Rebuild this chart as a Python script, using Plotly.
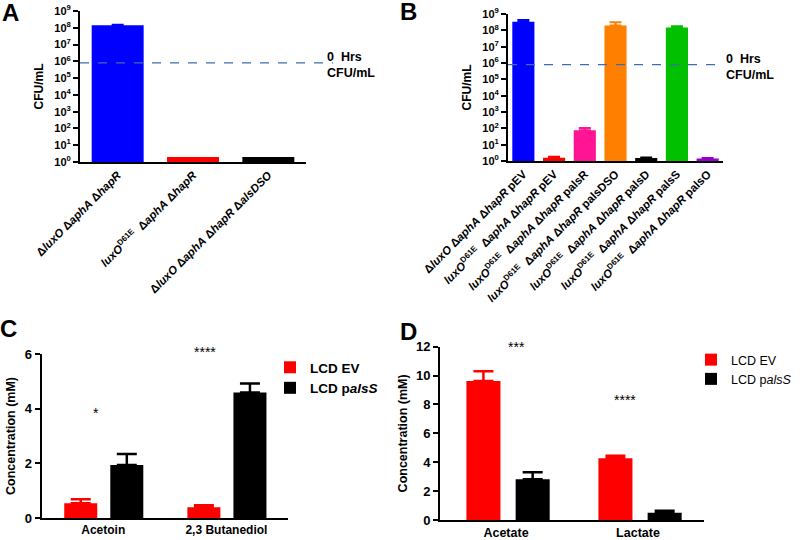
import plotly.graph_objects as go

# ---------------- data ----------------
a_labels = ["Δ<i>luxO</i> Δ<i>aphA</i> Δ<i>hapR</i>",
            "<i>luxO</i><sup>D61E</sup>  Δ<i>aphA</i> Δ<i>hapR</i>",
            "Δ<i>luxO</i> Δ<i>aphA</i> Δ<i>hapR</i> Δ<i>alsDSO</i>"]
a_values = [1.4e8, 2.0, 2.0]
a_errors = [0.1e8, 0.0, 0.0]
a_colors = ["#0000ff", "#ff0000", "#000000"]

b_labels = ["Δ<i>luxO</i> Δ<i>aphA</i> Δ<i>hapR</i> pEV",
            "<i>luxO</i><sup>D61E</sup>  Δ<i>aphA</i> Δ<i>hapR</i> pEV",
            "<i>luxO</i><sup>D61E</sup>  Δ<i>aphA</i> Δ<i>hapR</i> palsR",
            "<i>luxO</i><sup>D61E</sup>  Δ<i>aphA</i> Δ<i>hapR</i> palsDSO",
            "<i>luxO</i><sup>D61E</sup>  Δ<i>aphA</i> Δ<i>hapR</i> palsD",
            "<i>luxO</i><sup>D61E</sup>  Δ<i>aphA</i> Δ<i>hapR</i> palsS",
            "<i>luxO</i><sup>D61E</sup>  Δ<i>aphA</i> Δ<i>hapR</i> palsO"]
b_values = [3.4e8, 1.6, 75, 2.0e8, 1.5, 1.5e8, 1.4]
b_errors = [0.9e8, 0.2, 30, 1.1e8, 0.15, 0.3e8, 0.1]
b_colors = ["#0000ff", "#ff0000", "#ff1493", "#ff7f00", "#000000", "#00c000", "#9900cc"]

zero_hrs_cfu = 8e5

log_tickvals = [10 ** k for k in range(10)]
log_ticktext = ["<b>10<sup>%d</sup></b>" % k for k in range(10)]

c_categories = ["Acetoin", "2,3 Butanediol"]
c_ev = [0.54, 0.39]
c_ev_err = [0.15, 0.08]
c_als = [1.94, 4.59]
c_als_err = [0.40, 0.33]

d_categories = ["Acetate", "Lactate"]
d_ev = [9.63, 4.27]
d_ev_err = [0.67, 0.18]
d_als = [2.82, 0.51]
d_als_err = [0.48, 0.13]

c_stars = [("*", 0, 4.0), ("****", 1, 6.6)]
d_stars = [("***", 0, 12.95), ("****", 1, 9.3)]

RED = "#ff0000"
BLACK = "#000000"
FONT = "Liberation Sans, Arial, sans-serif"

W, H = 800, 540
def px_x(p):
    return p / W
def px_y(p):
    return 1 - p / H
def dx(a, b):
    return [px_x(a), px_x(b)]
def dy(top, bottom):
    return [px_y(bottom), px_y(top)]

fig = go.Figure()

# Panel A
for i, (v, e, c) in enumerate(zip(a_values, a_errors, a_colors)):
    fig.add_trace(go.Bar(
        x=[i], y=[v], marker_color=c, marker_line_width=0, width=0.69, showlegend=False,
        error_y=dict(type="data", symmetric=False, array=[e], arrayminus=[0],
                     color=c, thickness=2, width=6, visible=e > 0),
        xaxis="x", yaxis="y"))

# Panel B
for i, (v, e, c) in enumerate(zip(b_values, b_errors, b_colors)):
    fig.add_trace(go.Bar(
        x=[i], y=[v], marker_color=c, marker_line_width=0, width=0.72, showlegend=False,
        error_y=dict(type="data", symmetric=False, array=[e], arrayminus=[0],
                     color=c, thickness=2, width=6),
        xaxis="x2", yaxis="y2"))

# Panel C
fig.add_trace(go.Bar(
    x=[0, 1], y=c_ev, name="<b>LCD EV</b>", marker_color=RED, marker_line_width=0,
    width=0.268, offset=-0.317,
    error_y=dict(type="data", symmetric=False, array=c_ev_err, arrayminus=[0, 0],
                 color=RED, thickness=2.5, width=10),
    xaxis="x3", yaxis="y3", legend="legend"))
fig.add_trace(go.Bar(
    x=[0, 1], y=c_als, name="<b>LCD p<i>alsS</i></b>", marker_color=BLACK, marker_line_width=0,
    width=0.268, offset=0.057,
    error_y=dict(type="data", symmetric=False, array=c_als_err, arrayminus=[0, 0],
                 color=BLACK, thickness=2.5, width=10),
    xaxis="x3", yaxis="y3", legend="legend"))

# Panel D
fig.add_trace(go.Bar(
    x=[0, 1], y=d_ev, name="LCD EV", marker_color=RED, marker_line_width=0,
    width=0.258, offset=-0.30,
    error_y=dict(type="data", symmetric=False, array=d_ev_err, arrayminus=[0, 0],
                 color=RED, thickness=2.5, width=10),
    xaxis="x4", yaxis="y4", legend="legend2"))
fig.add_trace(go.Bar(
    x=[0, 1], y=d_als, name="LCD p<i>alsS</i>", marker_color=BLACK, marker_line_width=0,
    width=0.258, offset=0.073,
    error_y=dict(type="data", symmetric=False, array=d_als_err, arrayminus=[0, 0],
                 color=BLACK, thickness=2.5, width=10),
    xaxis="x4", yaxis="y4", legend="legend2"))

axis_common = dict(showline=True, linecolor="black", linewidth=2, showgrid=False, zeroline=False,
                   ticks="outside", tickcolor="black", tickwidth=2, ticklen=5, automargin=False,
                   ticklabeloverflow="allow", tickfont=dict(family=FONT, color="black"))
xcat_common = dict(showline=True, linecolor="black", linewidth=2, showgrid=False, zeroline=False,
                   ticks="", automargin=False, ticklabeloverflow="allow",
                   tickfont=dict(family=FONT, color="black"))

fig.update_layout(
    width=W, height=H, margin=dict(l=0, r=0, t=0, b=0, autoexpand=False),
    paper_bgcolor="white", plot_bgcolor="white", barmode="overlay",
    font=dict(family=FONT, color="black"),
    xaxis=dict(xcat_common, domain=dx(80, 306), anchor="y", range=[-0.5, 2.5],
               tickvals=list(range(3)), ticktext=["<b>%s</b>" % s for s in a_labels],
               tickangle=-45, tickfont=dict(family=FONT, size=11.5, color="black")),
    yaxis=dict(axis_common, domain=dy(11, 162), anchor="x", type="log", range=[0, 9],
               tickvals=log_tickvals, ticktext=log_ticktext,
               tickfont=dict(family=FONT, size=11, color="black"),
               title=dict(text="<b>CFU/mL</b>", font=dict(family=FONT, size=12), standoff=8)),
    xaxis2=dict(xcat_common, domain=dx(508, 723), anchor="y2", range=[-0.5, 6.5],
                tickvals=list(range(7)), ticktext=["<b>%s</b>" % s for s in b_labels],
                tickangle=-45, tickfont=dict(family=FONT, size=11.5, color="black")),
    yaxis2=dict(axis_common, domain=dy(14, 161), anchor="x2", type="log", range=[0, 9],
                tickvals=log_tickvals, ticktext=log_ticktext,
                tickfont=dict(family=FONT, size=11, color="black"),
                title=dict(text="<b>CFU/mL</b>", font=dict(family=FONT, size=12), standoff=8)),
    xaxis3=dict(xcat_common, domain=dx(41.7, 288), anchor="y3", range=[-0.5, 1.5],
                tickvals=[0, 1], ticktext=["<b>%s</b>" % s for s in c_categories],
                tickfont=dict(family=FONT, size=12, color="black")),
    yaxis3=dict(axis_common, domain=dy(354, 518), anchor="x3", range=[0, 6],
                tickvals=[0, 2, 4, 6], ticktext=["<b>%d</b>" % v for v in [0, 2, 4, 6]],
                tickfont=dict(family=FONT, size=13, color="black"),
                title=dict(text="<b>Concentration (mM)</b>", font=dict(family=FONT, size=12.5), standoff=6)),
    xaxis4=dict(xcat_common, domain=dx(440, 704), anchor="y4", range=[-0.5, 1.5],
                tickvals=[0, 1], ticktext=["<b>%s</b>" % s for s in d_categories],
                tickfont=dict(family=FONT, size=12.5, color="black")),
    yaxis4=dict(axis_common, domain=dy(346.7, 520), anchor="x4", range=[0, 12],
                tickvals=list(range(0, 13, 2)), ticktext=["<b>%d</b>" % v for v in range(0, 13, 2)],
                tickfont=dict(family=FONT, size=13, color="black"),
                title=dict(text="<b>Concentration (mM)</b>", font=dict(family=FONT, size=12.5), standoff=6)),
    legend=dict(x=px_x(270), y=px_y(352), xanchor="left", yanchor="top",
                font=dict(family=FONT, size=13.5, color="black"), bgcolor="rgba(0,0,0,0)",
                tracegroupgap=0, itemwidth=30),
    legend2=dict(x=px_x(691), y=px_y(345), xanchor="left", yanchor="top",
                 font=dict(family=FONT, size=12.5, color="black"), bgcolor="rgba(0,0,0,0)",
                 tracegroupgap=0, itemwidth=30),
)

# 0 Hrs CFU/mL reference lines
fig.add_shape(type="line", xref="x domain", yref="y", x0=0, x1=(333 - 80) / (306 - 80),
              y0=zero_hrs_cfu, y1=zero_hrs_cfu, line=dict(color="#3a6fb0", width=1.2, dash="dash"))
fig.add_shape(type="line", xref="x2 domain", yref="y2", x0=0, x1=1,
              y0=zero_hrs_cfu, y1=zero_hrs_cfu, line=dict(color="#3a6fb0", width=1.2, dash="dash"))
for xpx, ypx in [(325, 65), (724, 67)]:
    fig.add_annotation(x=px_x(xpx), y=px_y(ypx), xref="paper", yref="paper", xanchor="left",
                       yanchor="middle", align="left", showarrow=False,
                       text="<b>0  Hrs<br>CFU/mL</b>", font=dict(family=FONT, size=12.5, color="black"))

# significance stars (placed in axis-domain coordinates so those above the top still show)
def star(txt, xv, yv, xaxis, yaxis, xr, yr, xshift=0):
    fx = (xv - xr[0]) / (xr[1] - xr[0])
    fy = (yv - yr[0]) / (yr[1] - yr[0])
    fig.add_annotation(x=fx, y=fy, xref=xaxis + " domain", yref=yaxis + " domain", text=txt,
                       showarrow=False, xshift=xshift, yshift=-4,
                       font=dict(family=FONT, size=14, color="black"))

for txt, xv, yv in c_stars:
    star(txt, xv, yv, "x3", "y3", (-0.5, 1.5), (0, 6), xshift=-12 if txt == "*" else -8)
for txt, xv, yv in d_stars:
    star(txt, xv, yv, "x4", "y4", (-0.5, 1.5), (0, 12))

# panel letters
for letter, xpx, ypx in [("A", 10, 12), ("B", 408, 11), ("C", 8, 328), ("D", 408, 331)]:
    fig.add_annotation(x=px_x(xpx), y=px_y(ypx), xref="paper", yref="paper", text="<b>%s</b>" % letter,
                       showarrow=False, xanchor="center", yanchor="middle",
                       font=dict(family=FONT, size=24, color="black"))

# remove the default page margin so the 800x540 figure fills the window exactly
fig.write_html("out.html", config={"displayModeBar": False},
               post_script="document.body.style.margin='0px';")
